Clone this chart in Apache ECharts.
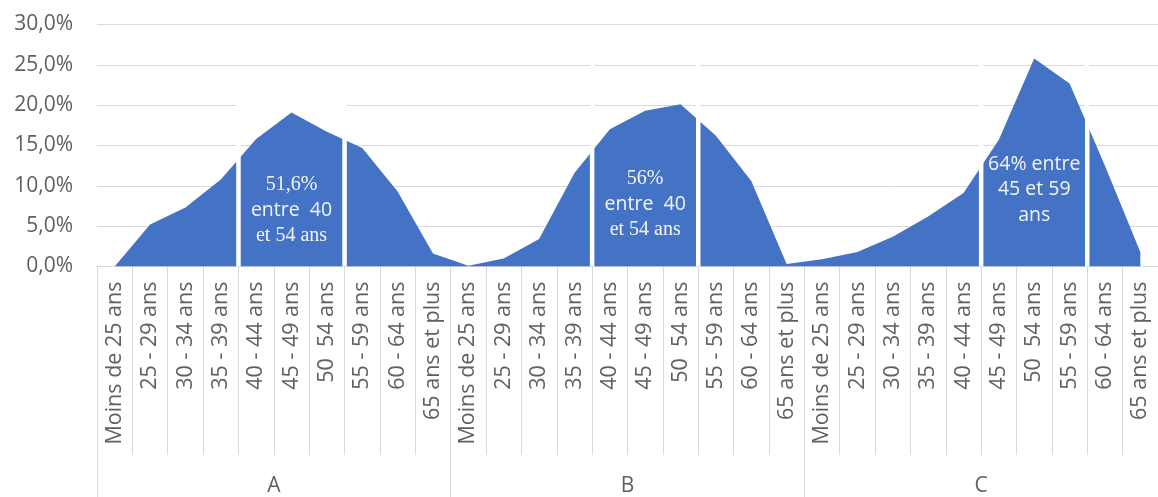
<!DOCTYPE html>
<html>
<head>
<meta charset="utf-8">
<title>Répartition par tranche d'âge</title>
<script src="https://cdn.jsdelivr.net/npm/echarts@6/dist/echarts.min.js"></script>
<style>
  html, body { margin: 0; padding: 0; background: #ffffff; }
  #chart { width: 1158px; height: 497px; }
</style>
</head>
<body>
<div id="chart"></div>
<script>
// Age bands shown under each group
const ageBands = [
  'Moins de 25 ans', '25 - 29 ans', '30 - 34 ans', '35 - 39 ans', '40 - 44 ans',
  '45 - 49 ans', '50  54 ans', '55 - 59 ans', '60 - 64 ans', '65 ans et plus'
];
const groups = ['A', 'B', 'C'];

// Share of each age band (%), one array per group
const shareA = [0.0, 5.2, 7.3, 10.8, 15.8, 19.1, 16.7, 14.7, 9.3, 1.6];
const shareB = [0.1, 1.0, 3.4, 11.6, 17.0, 19.3, 20.1, 16.2, 10.6, 0.3];
const shareC = [0.9, 1.8, 3.7, 6.2, 9.1, 15.7, 25.8, 22.7, 12.5, 1.8];

// Highlighted band ranges (first and last category index, inclusive)
const highlightFrom = [4, 14, 25];
const highlightTo = [6, 16, 27];
const highlightTop = [20, 28, 28];
const highlightTextAt = [7.0, 7.7, 9.5];
const highlightText = [
  '{s|51,6%}\n{n|entre  40}\n{s|et 54 ans}',
  '{s|56%}\n{n|entre  40}\n{s|et 54 ans}',
  '{n|64% entre}\n{n|45 et 59}\n{n|ans}'
];

const categories = groups.flatMap(g => ageBands.map(a => g + '|' + a));
const values = [].concat(shareA, shareB, shareC);
const boxes = highlightFrom.map((f, i) => [f, highlightTo[i], highlightTop[i], highlightTextAt[i], i]);

const GRID_LINE = '#D9D9D9';
const TEXT = '#606060';
const FILL = '#4472C4';

const chart = echarts.init(document.getElementById('chart'), null, { renderer: 'canvas' });

chart.setOption({
  animation: false,
  backgroundColor: '#ffffff',
  grid: { left: 97, right: -10, top: 24.5, bottom: 230.5 },
  xAxis: [
    {
      type: 'category',
      data: categories,
      boundaryGap: true,
      axisLine: { show: true, lineStyle: { color: GRID_LINE, width: 1 } },
      axisTick: { show: true, interval: 0, length: 188.5, lineStyle: { color: GRID_LINE, width: 1 } },
      axisLabel: {
        interval: 0,
        rotate: 90,
        margin: 15,
        color: TEXT,
        fontFamily: 'Open Sans',
        fontSize: 21.5,
        hideOverlap: false,
        formatter: v => v.split('|')[1]
      },
      splitLine: { show: false }
    },
    {
      type: 'category',
      data: groups,
      position: 'bottom',
      boundaryGap: true,
      axisLine: { show: false },
      axisTick: { show: true, interval: 0, length: 231, lineStyle: { color: GRID_LINE, width: 1 } },
      axisLabel: {
        interval: 0,
        margin: 209,
        color: TEXT,
        fontFamily: 'Open Sans',
        fontSize: 21
      },
      splitLine: { show: false }
    }
  ],
  yAxis: {
    type: 'value',
    min: 0,
    max: 30,
    interval: 5,
    axisLine: { show: false },
    axisTick: { show: false },
    axisLabel: {
      margin: 24,
      color: TEXT,
      fontFamily: 'Open Sans',
      fontSize: 21,
      formatter: v => v.toFixed(1).replace('.', ',') + '%'
    },
    splitLine: { show: true, lineStyle: { color: GRID_LINE, width: 1 } }
  },
  series: [
    {
      type: 'line',
      xAxisIndex: 0,
      data: values,
      symbol: 'none',
      lineStyle: { width: 0 },
      areaStyle: { color: FILL, opacity: 1 },
      silent: true
    },
    {
      // White-outlined boxes over the highlighted bands, with their captions
      type: 'custom',
      xAxisIndex: 0,
      data: boxes,
      encode: { x: [0, 1], y: 2 },
      silent: true,
      z: 5,
      renderItem(params, api) {
        const first = api.value(0);
        const last = api.value(1);
        const top = api.value(2);
        const textAt = api.value(3);
        const idx = api.value(4);
        const band = api.size([1, 0])[0];
        const pTopL = api.coord([first, top]);
        const pBotR = api.coord([last, 0]);
        const xL = pTopL[0] - band / 2;
        const xR = pBotR[0] + band / 2;
        const yT = pTopL[1];
        const yB = pBotR[1];
        const textY = api.coord([first, textAt])[1];
        return {
          type: 'group',
          children: [
            {
              type: 'polyline',
              shape: { points: [[xL, yB], [xL, yT], [xR, yT], [xR, yB]] },
              style: { stroke: '#ffffff', lineWidth: 4.5, fill: null }
            },
            {
              type: 'text',
              style: {
                x: (xL + xR) / 2,
                y: textY,
                text: highlightText[idx],
                align: 'center',
                verticalAlign: 'middle',
                fill: '#F4F4F4',
                rich: {
                  s: { fontFamily: 'Liberation Serif', fontSize: 20, lineHeight: 25, fill: '#F4F4F4', align: 'center' },
                  n: { fontFamily: 'Open Sans', fontSize: 19.5, lineHeight: 25.5, fill: '#F4F4F4', align: 'center' }
                }
              }
            }
          ]
        };
      }
    }
  ]
});
</script>
</body>
</html>
